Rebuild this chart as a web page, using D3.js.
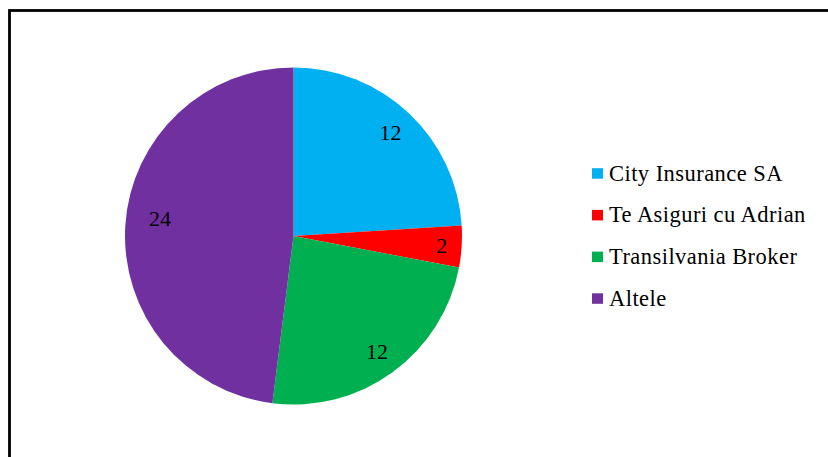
<!DOCTYPE html>
<html><head><meta charset="utf-8">
<script src="https://cdn.jsdelivr.net/npm/d3@7"></script>
</head><body style="margin:0">
<svg id="chart" width="828" height="457" style="display:block"></svg>
<script>
const categories = ["City Insurance SA", "Te Asiguri cu Adrian", "Transilvania Broker", "Altele"];
const values = [12, 2, 12, 24];
const colors = ["#00B0F0", "#FF0000", "#00B050", "#7030A0"];

const svg = d3.select("#chart").attr("font-family", "Liberation Serif");
const W = 828, H = 457;
svg.append("rect").attr("x", 0).attr("y", 0).attr("width", W).attr("height", H).attr("fill", "#fff");
// frame (right/bottom lie outside the view)
svg.append("rect").attr("x", 9.5).attr("y", 10.5).attr("width", 830).attr("height", 460)
  .attr("fill", "none").attr("stroke", "#000").attr("stroke-width", 2.8);

const cx = 293.5, cy = 236, R = 168.5;
const data = categories.map((c, i) => ({cat: c, value: values[i], color: colors[i]}));
const pie = d3.pie().value(d => d.value).sort(null);
const arcs = pie(data);
const arc = d3.arc().innerRadius(0).outerRadius(R);
const total = d3.sum(values);

const g = svg.append("g").attr("transform", `translate(${cx},${cy})`);
g.selectAll("path").data(arcs).join("path")
  .attr("d", arc).attr("fill", d => d.data.color);

// data labels: inside end, text box kept ~14px inside the rim
g.selectAll("text.lbl").data(arcs).join("text")
  .attr("class", "lbl")
  .style("font-family", '"Liberation Serif"', "important").style("font-size", "22px")
  .attr("text-anchor", "middle").attr("dy", "0.35em").attr("fill", "#000")
  .text(d => d.data.value)
  .attr("transform", d => {
    const big = d.data.value / total > 0.4;
    const hw = String(d.data.value).length * 5.5, hh = 7.4;
    let a = (d.startAngle + d.endAngle) / 2;
    if (big) a += 0.07; // best-fit nudge for the large slice
    const s = Math.sin(a), c = Math.cos(a);
    let r = R - 14 - (hw * Math.abs(s) + hh * Math.abs(c));
    if (big) r -= 8;
    return `translate(${r * s},${-r * c})`;
  });

const leg = svg.append("g").attr("transform", "translate(592,0)");
const rows = leg.selectAll("g").data(data).join("g")
  .attr("transform", (d, i) => `translate(0,${180.7 + i * 41.7})`);
rows.append("rect").attr("x", 0).attr("y", -12.5).attr("width", 11).attr("height", 10.5)
  .attr("fill", d => d.color);
rows.append("text").attr("x", 17).attr("y", 0)
  .style("font-family", '"Liberation Serif"', "important").style("font-size", "22.5px").style("letter-spacing", "0.45px")
  .attr("fill", "#000")
  .text(d => d.cat);
</script>
</body></html>
